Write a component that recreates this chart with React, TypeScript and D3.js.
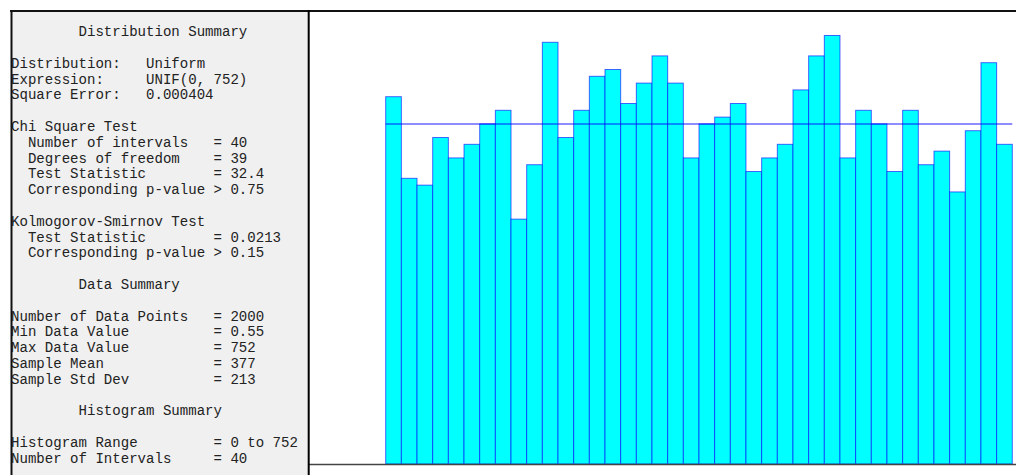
import React from 'react';
import * as d3 from 'd3';

// observed counts per interval (2000 points, 40 intervals)
const counts = [54, 42, 41, 48, 45, 47, 50, 52, 36, 44, 62, 48, 52, 57, 58, 53, 56, 60, 56, 45,
    50, 51, 53, 43, 45, 47, 55, 60, 63, 45, 52, 50, 43, 52, 44, 46, 40, 49, 59, 47];
const histRange = [0, 752];
const numPoints = 2000;
const numIntervals = 40;
const yMax = 0.0333;

const summaryLines = [
    "        Distribution Summary",
    "",
    "Distribution:   Uniform",
    "Expression:     UNIF(0, 752)",
    "Square Error:   0.000404",
    "",
    "Chi Square Test",
    "  Number of intervals   = 40",
    "  Degrees of freedom    = 39",
    "  Test Statistic        = 32.4",
    "  Corresponding p-value > 0.75",
    "",
    "Kolmogorov-Smirnov Test",
    "  Test Statistic        = 0.0213",
    "  Corresponding p-value > 0.15",
    "",
    "        Data Summary",
    "",
    "Number of Data Points   = 2000",
    "Min Data Value          = 0.55",
    "Max Data Value          = 752",
    "Sample Mean             = 377",
    "Sample Std Dev          = 213",
    "",
    "        Histogram Summary",
    "",
    "Histogram Range         = 0 to 752",
    "Number of Intervals     = 40",
];

function App() {
    const width = 1016;
    const height = 475;
    const plot = {left: 385.7, right: 1012.3, top: 11, bottom: 464};
    const binW = (histRange[1] - histRange[0]) / numIntervals;

    const x = d3.scaleLinear().domain(histRange).range([plot.left, plot.right]);
    const y = d3.scaleLinear().domain([0, yMax]).range([plot.bottom, plot.top]);
    const expected = 1 / numIntervals;

    return (
        <div style={{position: 'absolute', left: 0, top: 0}}>
            <svg width={width} height={height} style={{display: 'block'}}>
                <rect x={0} y={0} width={width} height={height} fill="#ffffff"/>
                {/* summary panel */}
                <rect x={11} y={11} width={298} height={height - 11} fill="#f0f0f0"/>
                <g fontFamily='"Courier New", "Liberation Mono", monospace' fontSize={14.07} fill="#222">
                    {summaryLines.map((t, i) => (
                        <text key={i} x={11} y={36.2 + i * 15.8} style={{whiteSpace: 'pre'}}>{t}</text>
                    ))}
                </g>
                {/* histogram bars */}
                <g>
                    {counts.map((c, i) => {
                        const x0 = x(histRange[0] + i * binW);
                        const x1 = x(histRange[0] + (i + 1) * binW);
                        const top = y(c / numPoints);
                        return (
                            <rect key={i} x={x0} y={top} width={x1 - x0} height={plot.bottom - top}
                                  fill="#00ffff" stroke="#0000ff" strokeOpacity={0.6} strokeWidth={1}/>
                        );
                    })}
                </g>
                <line x1={plot.left} x2={plot.right} y1={y(expected)} y2={y(expected)}
                      stroke="#0000ff" strokeOpacity={0.6} strokeWidth={1.5}/>
                {/* frame */}
                <line x1={309} x2={width} y1={464.5} y2={464.5} stroke="#444" strokeWidth={1.5}/>
                <line x1={10} x2={width} y1={11} y2={11} stroke="#111" strokeWidth={2}/>
                <line x1={11.5} x2={11.5} y1={10} y2={height} stroke="#111" strokeWidth={2}/>
                <line x1={308.7} x2={308.7} y1={10} y2={height} stroke="#000" strokeWidth={2}/>
            </svg>
        </div>
    );
}

export default App;
